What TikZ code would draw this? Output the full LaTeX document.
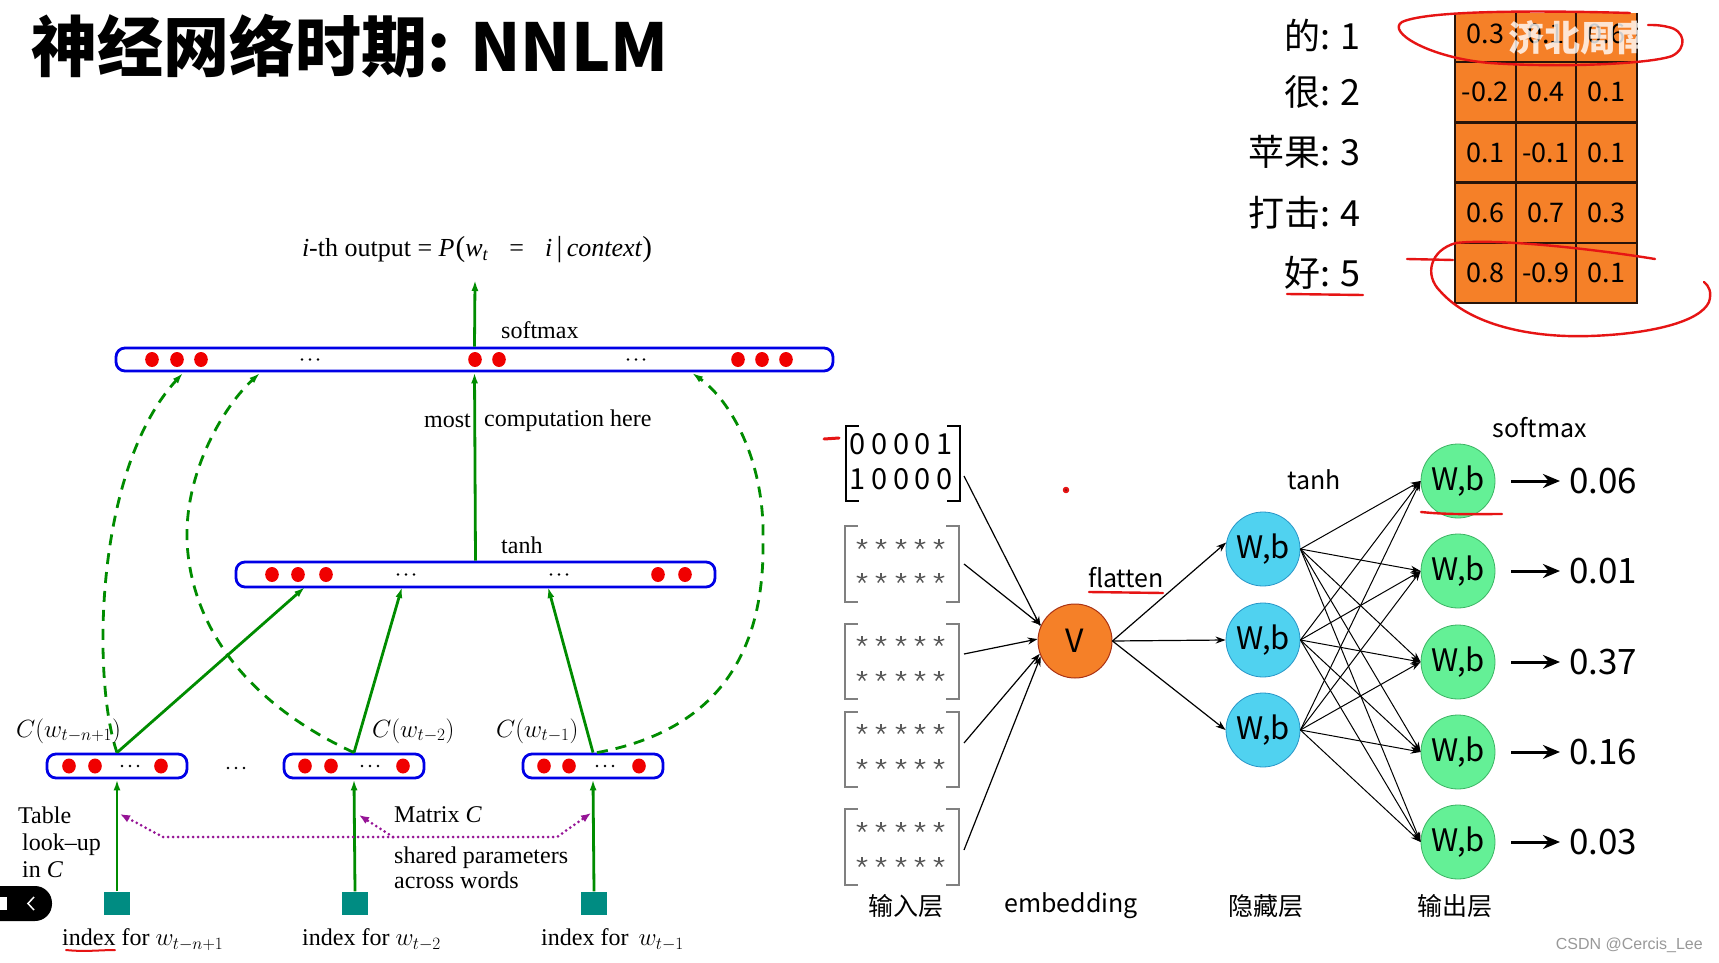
\documentclass[tikz,border=0pt]{standalone}
\usepackage{fontspec}
\setmainfont{Liberation Serif}
\newfontfamily\cjk{Noto Sans CJK SC}
\newfontfamily\arialf{Liberation Sans}
\usetikzlibrary{arrows.meta,calc}
\newcommand\fsz[1]{\fontsize{#1}{#1}\selectfont}
\definecolor{gline}{RGB}{0,140,0}
\definecolor{bbar}{RGB}{0,0,230}
\definecolor{rdot}{RGB}{240,0,0}
\definecolor{tealsq}{RGB}{0,140,130}
\definecolor{purp}{RGB}{150,20,150}
\definecolor{orng}{RGB}{245,128,40}
\definecolor{cyanf}{RGB}{80,210,240}
\definecolor{cyanb}{RGB}{40,150,200}
\definecolor{grnf}{RGB}{100,240,150}
\definecolor{grnb}{RGB}{60,180,100}
\definecolor{vbord}{RGB}{170,50,20}
\definecolor{ann}{RGB}{230,20,20}
\definecolor{cellb}{RGB}{40,20,10}
\begin{document}
\begin{tikzpicture}[x=1pt,y=-1pt,
  bar/.style={draw=bbar, line width=2.8pt, rounded corners=9pt, fill=white, inner sep=0pt},
  garr/.style={draw=gline, line width=2.8pt, -{Latex[length=11pt,width=7pt]}},
  gdash/.style={garr, dash pattern=on 11pt off 8pt},
  parr/.style={draw=purp, line width=3pt, dash pattern=on 0pt off 5pt, line cap=round},
  sq/.style={fill=tealsq, minimum width=26pt, minimum height=23pt, inner sep=0pt},
  lbl/.style={font=\fsz{24}, inner sep=0pt},
  mat/.style={minimum width=114pt, minimum height=75pt, inner sep=0pt},
  brk/.style={line width=2pt},
  narr/.style={line width=1.2pt, -{Stealth[length=10pt,width=7pt]}},
  varr/.style={line width=3pt, -{Stealth[length=17pt,width=14pt]}},
  hid/.style={circle, draw=cyanb, line width=0.8pt, fill=cyanf, minimum size=74pt, inner sep=0pt, font=\cjk\fsz{31}},
  outn/.style={circle, draw=grnb, line width=0.8pt, fill=grnf, minimum size=74pt, inner sep=0pt, font=\cjk\fsz{31}},
  rl/.style={font=\cjk\fsz{25}, inner sep=0pt},
  cell/.style={draw=cellb, line width=2.2pt, fill=orng, minimum width=60.6pt, minimum height=60pt, inner sep=0pt, font=\cjk\fsz{27}},
  ann/.style={draw=ann, line width=2.4pt, line cap=round, line join=round}
]
\useasboundingbox (0,0) rectangle (1719,963);
\fill[white] (0,0) rectangle (1719,963);

% ---------- title ----------
\node[anchor=base west, font=\cjk\bfseries\fsz{66}, inner sep=0pt] (title) at (31,72) {神经网络时期: NNLM};

% ---------- left diagram ----------
\node[bar, minimum width=717pt, minimum height=23pt] (topbar) at (474.5,359.5) {};
\node[bar, minimum width=479pt, minimum height=25pt] (hidbar) at (475.5,574.5) {};
\node[bar, minimum width=140pt, minimum height=24pt] (c1) at (117,766) {};
\node[bar, minimum width=140pt, minimum height=24pt] (c2) at (354,766) {};
\node[bar, minimum width=140pt, minimum height=24pt] (c3) at (593,766) {};

\foreach \x in {152,177,201,475,499,738,762,786} \fill[rdot] (\x,359.5) ellipse (6.8pt and 7.5pt);
\foreach \x in {272,298,326,658,685} \fill[rdot] (\x,574.5) ellipse (6.8pt and 7.5pt);
\foreach \x in {69,95,161,305,331,403,544,569,639} \fill[rdot] (\x,766) ellipse (6.8pt and 7.5pt);
\foreach \x/\y in {310/359.5,636/359.5,406/574.5,559/574.5,130/766,370/766,605/766,236/768}
  \foreach \dx in {-8,0,8} \fill ({\x+\dx},\y) circle (1.3pt);

\node[sq] (s1) at (117,903) {};
\node[sq] (s2) at (355,903) {};
\node[sq] (s3) at (594,903) {};

\node[font=\fsz{26}, inner sep=0pt] (outlbl) at (477,250) {\textit{i}-th output = \textit{P}\kern1pt{\fsz{29}(}\textit{w}\textsubscript{\textit{t}}\;\; = \;\;\textit{i}\,{\fsz{29}|}\,\textit{context}{\fsz{29})}};
\coordinate (outtip) at (475,280);
\node[lbl, anchor=west] (smx) at (501,330) {softmax};
\node[lbl, anchor=west] (tnh) at (501,545) {tanh};
\node[lbl, anchor=east] (most) at (471,421) {most};
\node[lbl, anchor=west] (comp) at (484,421) {computation here};

\draw[garr] (topbar.north) -- (outtip);
\draw[garr] (hidbar.north) -- (topbar.south);

\coordinate (h1) at (305,587);
\coordinate (h2) at (402,587);
\coordinate (h3) at (548,587);
\draw[garr] (c1.north) -- (h1);
\draw[garr] (c2.north) -- (h2);
\draw[garr] (c3.north) -- (h3);

\coordinate (d1) at (183,373);
\coordinate (d2) at (260,373);
\coordinate (d3) at (692,373);
\draw[gdash] (c1.north) .. controls (92,680) and (94,470) .. (d1);
\draw[gdash] (c2.north) .. controls (240,700) and (190,620) .. (187,540) .. controls (185,470) and (225,405) .. (d2);
\draw[gdash] ($(c3.north)+(4,0)$) .. controls (720,730) and (765,650) .. (763,540) .. controls (765,460) and (730,400) .. (d3);

\draw[garr] (s1.north) -- (c1.south);
\draw[garr] (s2.north) -- (c2.south);
\draw[garr] (s3.north) -- (c3.south);

\node[lbl, anchor=west] (cl1) at (16,731) {\fsz{26}$C(w_{t-n+1})$};
\node[lbl, anchor=west] (cl2) at (372,731) {\fsz{26}$C(w_{t-2})$};
\node[lbl, anchor=west] (cl3) at (496,731) {\fsz{26}$C(w_{t-1})$};

\coordinate (pt1) at (120,814);
\coordinate (pk1) at (163,837);
\coordinate (pk2) at (557,837);
\coordinate (pt3) at (591,813);
\coordinate (pk3) at (393,837);
\coordinate (pt2) at (359,815);
\draw[parr, {Latex[length=10pt,width=8pt]}-{Latex[length=10pt,width=8pt]}] (pt1) -- (pk1) -- (pk2) -- (pt3);
\draw[parr, -{Latex[length=10pt,width=8pt]}] (pk3) -- (pt2);

\node[anchor=west, align=left, font={\fontsize{24}{27}\selectfont}, inner sep=0pt] (tbl) at (18,842) {Table\\ \,look--up\\ \,in \textit{C}};
\node[lbl, anchor=west] (matc) at (394,815) {Matrix \textit{C}};
\node[anchor=west, align=left, font={\fontsize{24}{25}\selectfont}, inner sep=0pt] (shp) at (394,868) {shared parameters\\across words};

\node[lbl, anchor=west] (ix1) at (62,940) {index for $w_{t-n+1}$};
\node[lbl, anchor=west] (ix2) at (302,940) {index for $w_{t-2}$};
\node[lbl, anchor=west] (ix3) at (541,940) {index for \,$w_{t-1}$};

% ---------- table ----------
\foreach \lab/\yy in {{的: 1}/35,{很: 2}/92,{苹果: 3}/152,{打击: 4}/213,{好: 5}/273}
  \node[anchor=east, font=\cjk\fsz{36}, inner sep=0pt] at (1361,\yy) {\lab};
\fill[orng] (1455,13) rectangle (1637,62);
\foreach \xx in {1455,1515.7,1576.3,1637} \draw[draw=cellb, line width=2.2pt] (\xx,13) -- (\xx,62);
\draw[draw=cellb, line width=2.2pt] (1455,62) -- (1637,62);
\node[font=\cjk\fsz{27}] (t11) at (1485.3,34) {0.3};
\node[font=\cjk\fsz{27}] (t12) at (1546,34) {0.1};
\node[font=\cjk\fsz{27}] (t13) at (1606.6,34) {0.6};
\foreach \r/\yy/\a/\b/\c in {2/92/-0.2/0.4/0.1, 3/152.5/0.1/-0.1/0.1, 4/213/0.6/0.7/0.3, 5/273/0.8/-0.9/0.1}{
  \node[cell] (t\r1) at (1485.3,\yy) {\a};
  \node[cell] (t\r2) at (1546,\yy) {\b};
  \node[cell] (t\r3) at (1606.6,\yy) {\c};
}
\node[anchor=west, font=\cjk\bfseries\fsz{36}, text=white, opacity=0.8, inner sep=0pt] (wm) at (1508,38) {济北周南};

% red annotations on table
\draw[ann] (1630,13) .. controls (1560,11) and (1430,9) .. (1402,22) .. controls (1386,32) and (1430,58) .. (1490,63) .. controls (1560,68) and (1650,64) .. (1672,56) .. controls (1688,48) and (1685,30) .. (1668,27) .. controls (1660,25) and (1655,25) .. (1648,25);
\draw[ann] (1407,259) -- (1453,260);
\draw[ann] (1655,259) .. controls (1600,250) and (1500,238) .. (1456,243) .. controls (1430,250) and (1424,275) .. (1440,291) .. controls (1470,325) and (1530,338) .. (1590,336) .. controls (1650,334) and (1700,322) .. (1709,302) .. controls (1712,292) and (1709,286) .. (1704,282);
\draw[ann] (1287,294) -- (1363,295);

% ---------- network ----------
\node[mat] (m1) at (903,463.5) {};
\node[mat] (m2) at (902,564) {};
\node[mat] (m3) at (902,661.5) {};
\node[mat] (m4) at (902,749.5) {};
\node[mat] (m5) at (902,847) {};
\foreach \m/\c in {m1/black,m2/gray,m3/gray,m4/gray,m5/gray}{
  \draw[brk, draw=\c] ($(\m.north west)+(13,0)$) -- (\m.north west) -- (\m.south west) -- ++(13,0);
  \draw[brk, draw=\c] ($(\m.north east)+(-13,0)$) -- (\m.north east) -- (\m.south east) -- ++(-13,0);
}
\foreach \xx/\d in {858/0,880/0,902/0,923/0,945/1} \node[font=\cjk\fsz{29}, inner sep=0pt] at (\xx,444) {\d};
\foreach \xx/\d in {858/1,880/0,902/0,923/0,945/0} \node[font=\cjk\fsz{29}, inner sep=0pt] at (\xx,479) {\d};
\foreach \yy in {544,578,641,676,729,764,827,862}
  \foreach \xx in {862,881,901,920,939}
    \foreach \ang in {90,162,234,306,18}
      \draw[line width=1.4pt, draw=black!65] (\xx,\yy) -- ++({5.5*cos(\ang)},{-5.5*sin(\ang)});

\node[circle, draw=vbord, line width=1pt, fill=orng, minimum size=74pt, inner sep=0pt, font=\cjk\fsz{32}] (V) at (1075,641) {V};
\coordinate (i1) at (964,476);
\coordinate (i2) at (964,564);
\coordinate (i3) at (964,654);
\coordinate (i4) at (964,743);
\coordinate (i5) at (964,850);
\draw[narr] (i1) -- (V.157);
\draw[narr] (i2) -- (V.155);
\draw[narr] (i3) -- (V.177);
\draw[narr] (i4) -- (V.200);
\draw[narr] (i5) -- (V.204);

\node[hid] (H1) at (1263,549) {W,b};
\node[hid] (H2) at (1263,640) {W,b};
\node[hid] (H3) at (1263,730) {W,b};
\draw[narr] (V.east) -- (H1.170);
\draw[narr] (V.east) -- (H2.west);
\draw[narr] (V.east) -- (H3.west);

\foreach \j/\yy in {1/481,2/571,3/662,4/752,5/842}
  \node[outn] (O\j) at (1458,\yy) {W,b};
\foreach \i in {1,2,3}
  \foreach \j in {1,...,5}
    \draw[narr, line width=1pt] (H\i.east) -- (O\j.west);

\foreach \j/\yy/\v in {1/481/0.06,2/571/0.01,3/662/0.37,4/752/0.16,5/842/0.03}{
  \node[anchor=west, font=\cjk\fsz{35}, inner sep=0pt] (val\j) at (1569,\yy) {\v};
  \coordinate (va\j) at (1511,\yy);
  \draw[varr, shorten >=9pt] (va\j) -- (val\j.west);
}

\node[rl] (sfx) at (1540,428) {softmax};
\node[rl] (tnr) at (1314,480) {tanh};
\node[rl] (flt) at (1126,578) {flatten};
\node[rl] (b1) at (906,906) {输入层};
\node[rl] (b2) at (1071,906) {embedding};
\node[rl] (b3) at (1266,906) {隐藏层};
\node[rl] (b4) at (1455,906) {输出层};

\draw[ann] (1089,592) -- (1163,593);
\draw[ann] (1421,512) .. controls (1450,515) and (1480,514) .. (1502,514);
\draw[ann, line width=3pt] (824,439) -- (839,438);
\fill[ann] (1066,490) circle (2pt);
\draw[ann, line width=2pt] (66,950) .. controls (85,952) and (100,950) .. (115,950);

% ---------- screen overlays ----------
\node[anchor=east, font=\arialf\fsz{16}, text=black!40, inner sep=0pt] (csdn) at (1703,945) {CSDN @Cercis\_Lee};
\fill[black, rounded corners=17pt] (-30,886) rectangle (52,921);
\fill[white] (0,897) rectangle (7,910);
\draw[white, line width=1.5pt] (34,897) -- (28,903.5) -- (34,910);
\end{tikzpicture}
\end{document}
